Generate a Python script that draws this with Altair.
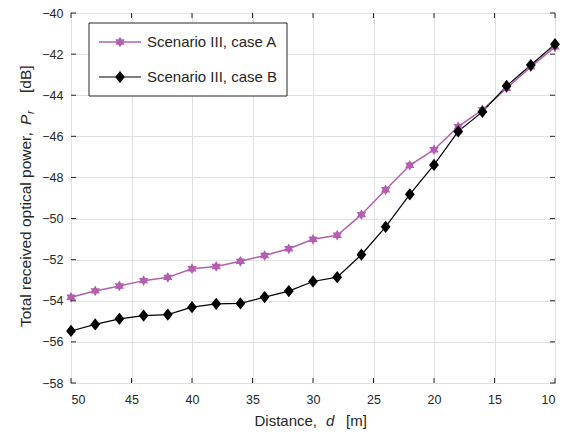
import math
import altair as alt
import pandas as pd

# ---------------- data ----------------
distance = [50, 48, 46, 44, 42, 40, 38, 36, 34, 32, 30, 28, 26, 24, 22, 20, 18, 16, 14, 12, 10]
case_a = [-53.83, -53.52, -53.28, -53.02, -52.86, -52.44, -52.33, -52.08, -51.80, -51.47, -51.01,
          -50.81, -49.81, -48.60, -47.41, -46.65, -45.53, -44.71, -43.66, -42.62, -41.65]
case_b = [-55.47, -55.15, -54.88, -54.72, -54.67, -54.31, -54.15, -54.13, -53.82, -53.53, -53.06,
          -52.85, -51.76, -50.40, -48.82, -47.39, -45.76, -44.81, -43.55, -42.53, -41.52]
series_names = ["Scenario III, case A", "Scenario III, case B"]
x_ticks = [50, 45, 40, 35, 30, 25, 20, 15, 10]
y_ticks = [-58, -56, -54, -52, -50, -48, -46, -44, -42, -40]
x_title = ["Distance,", "d", "[m]"]
y_title = ["Total received optical power,", "P", "r", "[dB]"]

# ---------------- style ----------------
W, H = 484, 370
PINK = "#B35FAF"
INK = "#262626"
GRID = "#E0E0E0"
FONT = "Liberation Sans"

pts = []
for k in range(12):
    ang = math.radians(-90 + 30 * k)
    r = 1.0 if k % 2 == 0 else 0.58
    pts.append((r * math.cos(ang), r * math.sin(ang)))
HEXAGRAM = "M" + "L".join(f"{px:.3f},{py:.3f}" for px, py in pts) + "Z"
DIAMOND = "M0,-1L0.8,0L0,1L-0.8,0Z"

xscale = alt.Scale(domain=[10, 50], reverse=True, nice=False, zero=False)
yscale = alt.Scale(domain=[-58, -40], nice=False, zero=False)
xaxis = alt.Axis(values=x_ticks, title=None, grid=True, ticks=False, domain=False,
                 labelPadding=10, format="d")
yaxis = alt.Axis(values=y_ticks, title=None, grid=True, ticks=False, domain=False,
                 labelPadding=8, format="d")

df_a = pd.DataFrame({"d": distance, "p": case_a})
df_b = pd.DataFrame({"d": distance, "p": case_b})
X = alt.X("d:Q", scale=xscale, axis=xaxis)
Y = alt.Y("p:Q", scale=yscale, axis=yaxis)

line_a = alt.Chart(df_a).mark_line(color=PINK, strokeWidth=1.5).encode(x=X, y=Y)
pts_a = alt.Chart(df_a).mark_point(shape=HEXAGRAM, filled=True, size=115, color=PINK,
                                   opacity=1).encode(x=X, y=Y)
line_b = alt.Chart(df_b).mark_line(color="black", strokeWidth=1.2).encode(x=X, y=Y)
pts_b = alt.Chart(df_b).mark_point(shape=DIAMOND, filled=True, size=150, color="black",
                                   opacity=1).encode(x=X, y=Y)

# inward ticks on all four sides
xt = pd.DataFrame({"d": x_ticks})
yt = pd.DataFrame({"p": y_ticks})
tick_b = alt.Chart(xt).mark_rule(color=INK, strokeWidth=1).encode(
    x=X, y=alt.value(H - 5), y2=alt.value(H))
tick_t = alt.Chart(xt).mark_rule(color=INK, strokeWidth=1).encode(
    x=X, y=alt.value(0), y2=alt.value(5))
tick_l = alt.Chart(yt).mark_rule(color=INK, strokeWidth=1).encode(
    y=Y, x=alt.value(0), x2=alt.value(5))
tick_r = alt.Chart(yt).mark_rule(color=INK, strokeWidth=1).encode(
    y=Y, x=alt.value(W - 5), x2=alt.value(W))

one = pd.DataFrame({"k": [0]})

# legend
leg_box = alt.Chart(one).mark_rect(fill="white", stroke=INK, strokeWidth=1).encode(
    x=alt.value(18), x2=alt.value(216), y=alt.value(10), y2=alt.value(83))
leg = []
for i, (col, shp, sz, sw) in enumerate([(PINK, HEXAGRAM, 115, 1.5), ("black", DIAMOND, 150, 1.2)]):
    yy = 29 + 35 * i
    leg.append(alt.Chart(one).mark_rule(color=col, strokeWidth=sw).encode(
        x=alt.value(28), x2=alt.value(70), y=alt.value(yy)))
    leg.append(alt.Chart(one).mark_point(shape=shp, filled=True, size=sz, color=col, opacity=1).encode(
        x=alt.value(49), y=alt.value(yy)))
    leg.append(alt.Chart(one).mark_text(text=series_names[i], align="left", baseline="middle",
                                        fontSize=15, font=FONT, color=INK).encode(
        x=alt.value(76), y=alt.value(yy)))

# axis titles with italic pieces
def txt(s, **kw):
    enc = {k: alt.value(v) for k, v in kw.pop("pos").items()}
    return alt.Chart(one).mark_text(text=s, font=FONT, color=INK, **kw).encode(**enc)

xt_base = H + 43
yb = -40
titles = [
    txt(x_title[0], align="right", baseline="alphabetic", fontSize=15, pos={"x": 246, "y": xt_base}),
    txt(x_title[1], align="left", baseline="alphabetic", fontSize=15, fontStyle="italic",
        pos={"x": 255, "y": xt_base}),
    txt(x_title[2], align="left", baseline="alphabetic", fontSize=15, pos={"x": 275, "y": xt_base}),
    txt(y_title[0], align="left", baseline="alphabetic", fontSize=15.5, angle=270,
        pos={"x": yb, "y": 314}),
    txt(y_title[1], align="left", baseline="alphabetic", fontSize=15.5, angle=270, fontStyle="italic",
        pos={"x": yb, "y": 112}),
    txt(y_title[2], align="left", baseline="alphabetic", fontSize=10.5, angle=270, fontStyle="italic",
        pos={"x": yb + 3, "y": 101}),
    txt(y_title[3], align="left", baseline="alphabetic", fontSize=15.5, angle=270,
        pos={"x": yb, "y": 80}),
]

chart = alt.layer(
    line_a, line_b, pts_a, pts_b, tick_b, tick_t, tick_l, tick_r, leg_box, *leg, *titles
).properties(
    width=W, height=H,
    autosize=alt.AutoSizeParams(type="none"),
    padding={"left": 63, "top": 5, "right": 7, "bottom": 48},
    background="white",
).configure_view(
    stroke=INK, strokeWidth=1
).configure_axis(
    labelFont=FONT, labelFontSize=12.5, labelColor=INK, gridColor=GRID, gridWidth=1
)

chart.save("out.html", embed_options={"renderer": "svg", "actions": False})
